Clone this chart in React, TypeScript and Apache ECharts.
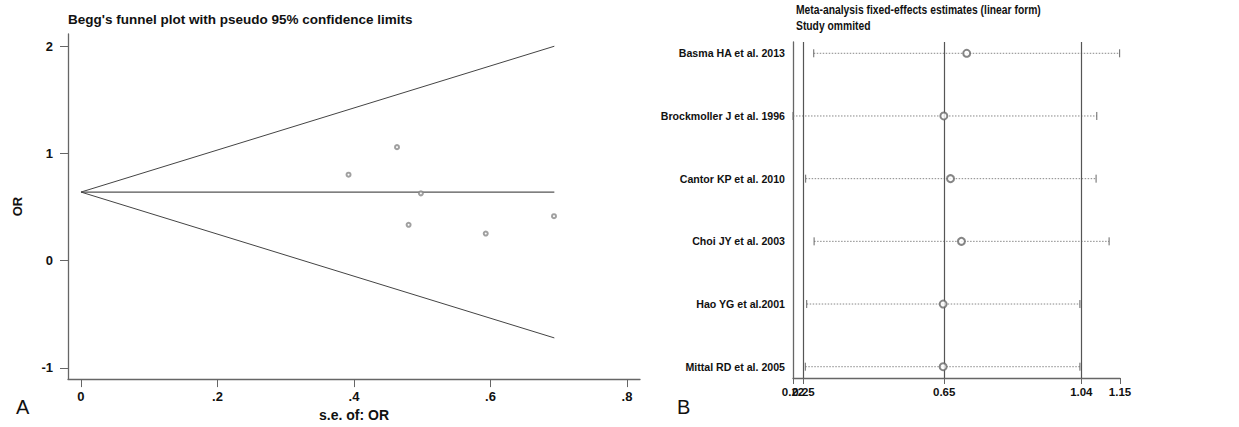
import React, { useEffect, useRef } from "react";
import * as echarts from "echarts";

// ---- Panel A: Begg's funnel plot ----
const seOR = [0.392, 0.463, 0.498, 0.48, 0.593, 0.693];
const logOR = [0.802, 1.059, 0.628, 0.335, 0.253, 0.415];
const pooledOR = 0.64;
const funnelSe = [0, 0.6935];
const funnelUpper = [0.64, 2.0];
const funnelLower = [0.64, -0.72];
const funnelXTicks = [0, 0.2, 0.4, 0.6, 0.8];
const funnelYTicks = [-1, 0, 1, 2];

// ---- Panel B: influence analysis ----
const studies = [
  "Basma HA et al. 2013",
  "Brockmoller J et al. 1996",
  "Cantor KP et al. 2010",
  "Choi JY et al. 2003",
  "Hao YG et al.2001",
  "Mittal RD et al. 2005",
];
const estimates = [0.714, 0.649, 0.668, 0.699, 0.647, 0.647];
const lowerCI = [0.279, 0.22, 0.256, 0.28, 0.259, 0.255];
const upperCI = [1.149, 1.084, 1.082, 1.119, 1.036, 1.036];
const refLines = [0.25, 0.65, 1.04];
const infXTicks = [0.22, 0.65, 1.04, 1.15];
const infXTicksExtra = [0.25];

const FONT = "'Liberation Sans', Arial, sans-serif";
const AXIS = "#666";

export default function App() {
  const ref = useRef<HTMLDivElement>(null);
  useEffect(() => {
    if (!ref.current) return;
    const chart = echarts.init(ref.current, null, { renderer: "svg" });
    const fmtSe = (v: number) => (v === 0 ? "0" : String(v).replace(/^0/, ""));
    const infAxisBase = {
      gridIndex: 1,
      type: "value",
      position: "bottom",
      offset: 0,
      min: 0.22,
      max: 1.15,
      splitLine: { show: false },
    };
    const infLabel = {
      formatter: (v: number) => v.toFixed(2),
      margin: 8,
      fontSize: 11.5,
      fontWeight: "bold",
      color: "#111",
      hideOverlap: false,
      showMinLabel: true,
      showMaxLabel: true,
    };
    chart.setOption({
      animation: false,
      backgroundColor: "#fff",
      textStyle: { fontFamily: FONT },
      title: [
        {
          text: "Begg's funnel plot with pseudo 95% confidence limits",
          left: 63,
          top: 7,
          textStyle: { fontSize: 13.5, fontWeight: "bold", color: "#111", fontFamily: FONT },
        },
      ],
      grid: [
        { left: 68, top: 34, width: 572, height: 352 },
        { left: 793, top: 42, width: 327, height: 336 },
      ],
      xAxis: [
        {
          gridIndex: 0,
          type: "value",
          position: "bottom",
          min: -0.019,
          max: 0.819,
          splitLine: { show: false },
          axisLine: { onZero: false, lineStyle: { color: AXIS, width: 1.3 } },
          axisTick: { show: true, length: 8, customValues: funnelXTicks, lineStyle: { color: AXIS } },
          axisLabel: {
            customValues: funnelXTicks,
            formatter: (v: number) => fmtSe(v),
            margin: 11,
            fontSize: 13,
            fontWeight: "bold",
            color: "#111",
          },
          name: "s.e. of: OR",
          nameLocation: "middle",
          nameGap: 24,
          nameTextStyle: { fontSize: 14, fontWeight: "bold", color: "#111" },
        },
        {
          ...infAxisBase,
          axisLine: { onZero: false, lineStyle: { color: AXIS, width: 1.3 } },
          axisTick: { show: true, length: 6, customValues: infXTicks, lineStyle: { color: AXIS } },
          axisLabel: { ...infLabel, customValues: infXTicks },
        },
        {
          ...infAxisBase,
          axisLine: { show: false, onZero: false },
          axisTick: { show: true, length: 6, customValues: infXTicksExtra, lineStyle: { color: AXIS } },
          axisLabel: { ...infLabel, customValues: infXTicksExtra },
        },
      ],
      yAxis: [
        {
          gridIndex: 0,
          type: "value",
          position: "left",
          min: -1.104,
          max: 2.114,
          splitLine: { show: false },
          axisLine: { show: true, onZero: false, lineStyle: { color: AXIS, width: 1.3 } },
          axisTick: { show: true, length: 8, customValues: funnelYTicks, lineStyle: { color: AXIS } },
          axisLabel: {
            customValues: funnelYTicks,
            formatter: (v: number) => String(v),
            margin: 15,
            fontSize: 13,
            fontWeight: "bold",
            color: "#111",
          },
          name: "OR",
          nameLocation: "middle",
          nameGap: 44,
          nameTextStyle: { fontSize: 13, fontWeight: "bold", color: "#111" },
        },
        {
          gridIndex: 1,
          type: "value",
          position: "left",
          inverse: true,
          min: -0.18,
          max: 5.18,
          splitLine: { show: false },
          axisLine: { show: true, onZero: false, lineStyle: { color: AXIS, width: 1.3 } },
          axisTick: { show: false },
          axisLabel: {
            customValues: studies.map((_, i) => i),
            formatter: (v: number) => studies[Math.round(v)] ?? "",
            margin: 8,
            fontSize: 10.6,
            fontWeight: "bold",
            color: "#111",
          },
        },
      ],
      series: [
        {
          type: "line",
          xAxisIndex: 0,
          yAxisIndex: 0,
          data: funnelSe.map((s, i) => [s, funnelUpper[i]]),
          symbol: "none",
          lineStyle: { color: "#444", width: 1 },
        },
        {
          type: "line",
          xAxisIndex: 0,
          yAxisIndex: 0,
          data: funnelSe.map((s) => [s, pooledOR]),
          symbol: "none",
          lineStyle: { color: "#555", width: 1.2 },
        },
        {
          type: "line",
          xAxisIndex: 0,
          yAxisIndex: 0,
          data: funnelSe.map((s, i) => [s, funnelLower[i]]),
          symbol: "none",
          lineStyle: { color: "#444", width: 1 },
        },
        {
          type: "scatter",
          xAxisIndex: 0,
          yAxisIndex: 0,
          data: seOR.map((s, i) => [s, logOR[i]]),
          symbol: "emptyCircle",
          symbolSize: 4,
          z: 5,
          itemStyle: { color: "#888", borderColor: "#888", borderWidth: 1 },
        },
        {
          type: "custom",
          xAxisIndex: 1,
          yAxisIndex: 1,
          data: studies.map((_, i) => [i, lowerCI[i], upperCI[i]]),
          encode: { y: 0, x: [1, 2] },
          renderItem: (_p: any, api: any) => {
            const y = api.value(0);
            const a = api.coord([api.value(1), y]);
            const b = api.coord([api.value(2), y]);
            return {
              type: "group",
              children: [
                {
                  type: "line",
                  shape: { x1: a[0], y1: a[1], x2: b[0], y2: b[1] },
                  style: { stroke: "#888", lineWidth: 1, lineDash: [1.5, 1.5] },
                },
                {
                  type: "line",
                  shape: { x1: a[0], y1: a[1] - 4, x2: a[0], y2: a[1] + 4 },
                  style: { stroke: "#666", lineWidth: 1 },
                },
                {
                  type: "line",
                  shape: { x1: b[0], y1: b[1] - 4, x2: b[0], y2: b[1] + 4 },
                  style: { stroke: "#666", lineWidth: 1 },
                },
              ],
            };
          },
        },
        {
          type: "scatter",
          xAxisIndex: 1,
          yAxisIndex: 1,
          data: studies.map((_, i) => [estimates[i], i]),
          symbol: "emptyCircle",
          symbolSize: 7,
          z: 5,
          itemStyle: { color: "#666", borderColor: "#666", borderWidth: 1 },
          markLine: {
            silent: true,
            symbol: "none",
            label: { show: false },
            lineStyle: { color: "#555", width: 1.2, type: "solid" },
            data: refLines.map((v) => ({ xAxis: v })),
          },
        },
      ],
      graphic: [
        {
          type: "text",
          x: 796,
          y: 4,
          scaleX: 0.86,
          style: { text: "Meta-analysis fixed-effects estimates (linear form)", fontSize: 12, fontWeight: "bold", fill: "#111", fontFamily: FONT },
        },
        {
          type: "text",
          x: 796,
          y: 20,
          scaleX: 0.86,
          style: { text: "Study ommited", fontSize: 12, fontWeight: "bold", fill: "#111", fontFamily: FONT },
        },
        { type: "text", left: 16, top: 397, style: { text: "A", fontSize: 20, fill: "#111", fontFamily: FONT } },
        { type: "text", left: 677, top: 397, style: { text: "B", fontSize: 20, fill: "#111", fontFamily: FONT } },
      ],
    });
    return () => chart.dispose();
  }, []);
  return (
    <div
      ref={ref}
      style={{ position: "fixed", left: 0, top: 0, width: 1239, height: 427, background: "#fff" }}
    />
  );
}
